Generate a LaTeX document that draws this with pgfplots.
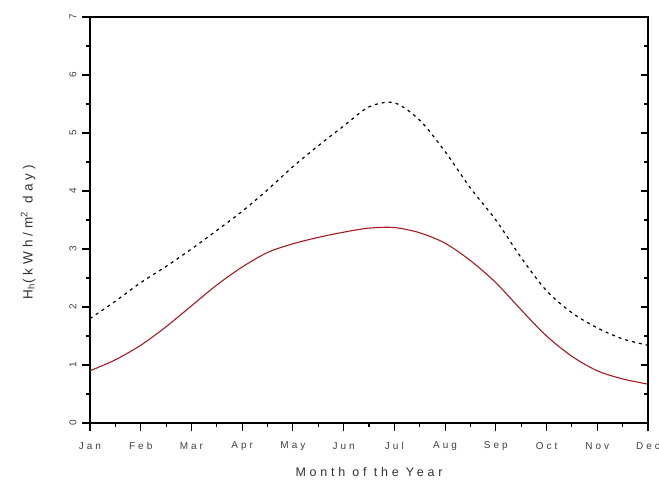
\documentclass[border=0pt]{standalone}
\usepackage{fontspec}
\setmainfont{Liberation Sans}
\newfontfamily\spaced[LetterSpace=30]{Liberation Sans}
\usepackage{pgfplots}
\usepackage{pgfplotstable}
\pgfplotsset{compat=1.18}

\definecolor{hred}{RGB}{170,25,35}

% month index (0 = Jan) vs H
\pgfplotstableread{
m    H0     Hh
0    1.80   0.90
0.5  2.10   1.09
1    2.42   1.34
1.5  2.70   1.66
2    3.00   2.02
2.5  3.32   2.38
3    3.65   2.69
3.5  4.02   2.94
4    4.42   3.09
4.5  4.78   3.20
5    5.12   3.29
5.5  5.45   3.36
6    5.52   3.37
6.5  5.22   3.28
7    4.68   3.10
7.5  4.05   2.80
8    3.50   2.42
8.5  2.85   1.95
9    2.28   1.50
9.5  1.90   1.15
10   1.64   0.90
10.5 1.45   0.76
11   1.34   0.67
}\solar

\begin{document}
\begin{tikzpicture}
\path[use as bounding box] (-90pt,-60pt) rectangle (569pt,423pt);
\begin{axis}[
    at={(0,0)}, anchor=south west,
    width=558pt, height=406pt, scale only axis,
    xmin=0, xmax=11, ymin=0, ymax=7,
    xtick={0,...,11},
    xticklabels={Jan,Feb,Mar,Apr,May,Jun,Jul,Aug,Sep,Oct,Nov,Dec},
    ytick={0,...,7},
    minor x tick num=1, minor y tick num=1,
    xtick pos=bottom, ytick pos=left,
    tick align=outside,
    major tick length=8pt, minor tick length=4pt,
    tick style={black, line width=1.1pt},
    axis line style={line width=1.3pt},
    /pgf/number format/assume math mode=true,
    ticklabel style={font=\fontsize{10}{12}\spaced, text=black!75},
    yticklabel style={rotate=90, anchor=center, yshift=9pt},
    xticklabel style={anchor=center, yshift=-15pt},
    xlabel={Month of the Year},
    ylabel={H\textsubscript{h}(kWh/m\textsuperscript{2} day)},
    label style={font=\fontsize{13.5}{15}\spaced, text=black!80},
    xlabel style={at={(axis description cs:0.5,-0.121)}, anchor=center, font=\fontsize{12.5}{14}\spaced},
    ylabel style={at={(axis description cs:-0.111,0.47)}, anchor=center, rotate=0},
]
\addplot[black, line width=1.2pt, dash pattern=on 3pt off 4pt, smooth] table[x=m, y=H0] {\solar};
\addplot[hred, line width=1.1pt, smooth] table[x=m, y=Hh] {\solar};
\end{axis}
\begin{axis}[
    at={(0,0)}, anchor=south west,
    width=558pt, height=406pt, scale only axis,
    xmin=0, xmax=11, ymin=0, ymax=7,
    axis x line=none, axis y line*=right,
    ytick={0,...,7}, minor y tick num=1,
    yticklabels={},
    tick align=inside,
    major tick length=7pt, minor tick length=4pt,
    tick style={black, line width=1.1pt},
    axis line style={line width=1.3pt},
]
\end{axis}
\end{tikzpicture}
\end{document}
